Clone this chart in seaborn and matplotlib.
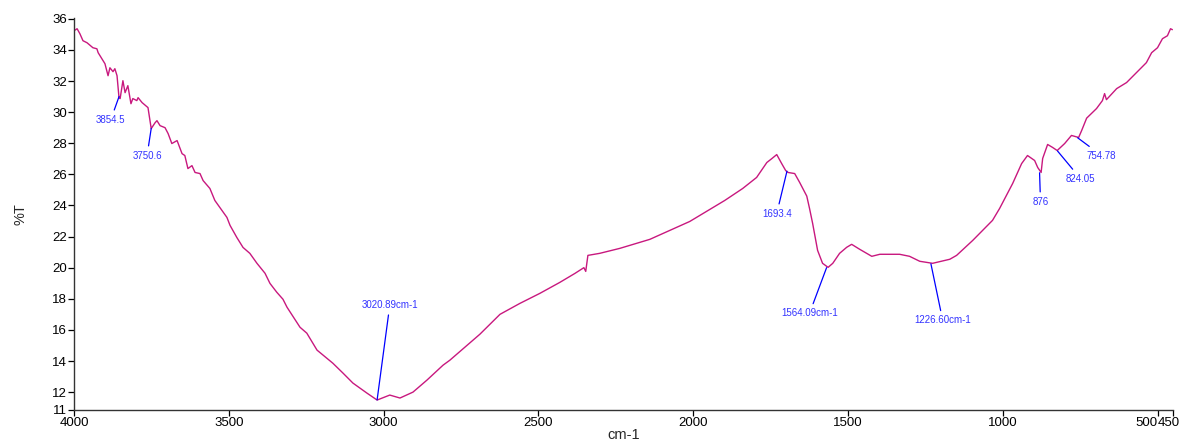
import matplotlib
matplotlib.use("Agg")
import matplotlib.pyplot as plt
import matplotlib.transforms as mtransforms
import seaborn as sns
import pandas as pd

# ---- data ----
wavenumber = [
    4000, 3990, 3981, 3971, 3958, 3939, 3926, 3922, 3910, 3900, 3890, 3884, 3874, 3868, 3861,
    3854.5, 3851, 3842, 3835, 3826, 3816, 3810, 3797, 3793, 3780, 3761, 3750.6, 3738, 3732, 3722,
    3706, 3696, 3684, 3667, 3651, 3642, 3632, 3619, 3609, 3593, 3583, 3561, 3545, 3529, 3506,
    3496, 3474, 3454, 3432, 3409, 3383, 3367, 3345, 3325, 3312, 3270, 3248, 3215, 3164, 3131,
    3099, 3054, 3020.89, 2980, 2947, 2905, 2860, 2808, 2786, 2689, 2624, 2560, 2495, 2431, 2382,
    2353, 2347, 2340, 2302, 2237, 2140, 2011, 1898, 1840, 1795, 1762, 1746, 1730, 1714, 1701,
    1693.4, 1672, 1656, 1633, 1624, 1614, 1598, 1582, 1564.09, 1549, 1527, 1504, 1488, 1462, 1423,
    1397, 1333, 1301, 1268, 1226.6, 1171, 1149, 1097, 1033, 1010, 968, 939, 920, 897, 887,
    876, 871, 855, 839, 824.05, 800, 778, 754.78, 745, 729, 697, 678, 671, 665, 632,
    600, 568, 536, 519, 500, 484, 468, 458, 452,
]
transmittance = [
    35.23, 35.36, 35.04, 34.59, 34.46, 34.14, 34.07, 33.82, 33.43, 33.11, 32.34, 32.85, 32.60, 32.79, 32.34,
    30.90, 30.87, 32.02, 31.25, 31.70, 30.54, 30.87, 30.74, 30.93, 30.61, 30.29, 28.94, 29.32, 29.45, 29.13,
    29.00, 28.62, 27.98, 28.17, 27.33, 27.21, 26.37, 26.56, 26.12, 26.05, 25.60, 25.09, 24.32, 23.87, 23.23,
    22.72, 21.94, 21.30, 20.92, 20.28, 19.64, 18.99, 18.42, 17.97, 17.46, 16.17, 15.79, 14.70, 13.86, 13.22,
    12.58, 11.94, 11.49, 11.81, 11.62, 12.00, 12.77, 13.73, 14.05, 15.72, 17.00, 17.70, 18.35, 19.05, 19.63,
    20.00, 19.76, 20.79, 20.92, 21.24, 21.82, 22.97, 24.32, 25.09, 25.80, 26.76, 27.01, 27.27, 26.69, 26.24,
    26.12, 26.05, 25.48, 24.60, 23.80, 22.84, 21.11, 20.28, 20.02, 20.28, 20.92, 21.31, 21.50, 21.18, 20.73,
    20.86, 20.86, 20.73, 20.41, 20.28, 20.54, 20.79, 21.75, 23.04, 23.81, 25.41, 26.69, 27.21, 26.89, 26.44,
    26.12, 27.02, 27.92, 27.73, 27.53, 27.98, 28.50, 28.37, 28.82, 29.61, 30.23, 30.74, 31.19, 30.80, 31.51,
    31.90, 32.54, 33.18, 33.82, 34.14, 34.72, 34.91, 35.36, 35.30,
]

peak_labels = ["3854.5", "3750.6", "3020.89cm-1", "1693.4", "1564.09cm-1", "1226.60cm-1", "876", "824.05", "754.78"]
peak_x = [3854.5, 3750.6, 3020.89, 1697, 1569, 1232, 881, 823, 758]
peak_y = [31.0, 28.95, 11.5, 26.2, 20.0, 20.25, 26.1, 27.5, 28.35]
label_x = [3881, 3764, 2980, 1730, 1624, 1194, 878, 749, 681]
label_y = [29.52, 27.21, 17.58, 23.48, 17.07, 16.62, 24.25, 25.73, 27.21]

x_ticks = [4000, 3500, 3000, 2500, 2000, 1500, 1000, 500, 450]
y_ticks = [10.85, 12, 14, 16, 18, 20, 22, 24, 26, 28, 30, 32, 34, 36]
y_tick_labels = ["11", "12", "14", "16", "18", "20", "22", "24", "26", "28", "30", "32", "34", "36"]

# ---- plot ----
sns.set_style("ticks")
plt.rcParams["font.family"] = ["Liberation Sans", "DejaVu Sans"]

fig = plt.figure(figsize=(11.88, 4.41), dpi=100)
ax = fig.add_axes([74 / 1188, 31 / 441, (1173 - 74) / 1188, (410 - 18) / 441])

df = pd.DataFrame({"wn": wavenumber, "T": transmittance})
sns.lineplot(data=df, x="wn", y="T", ax=ax, color="#C8187E", linewidth=1.0,
             sort=False, estimator=None)

for lab, px, py, tx, ty in zip(peak_labels, peak_x, peak_y, label_x, label_y):
    ax.annotate(lab, xy=(px, py), xytext=(tx, ty), ha="center", va="center",
                fontsize=7, color="#3333FF",
                arrowprops=dict(arrowstyle="-", color="#0000FF", lw=0.9,
                                shrinkA=1, shrinkB=0))

ax.set_xlim(4000, 450)
ax.set_ylim(10.85, 36.05)
ax.set_xticks(x_ticks)
ax.set_xticklabels([str(t) for t in x_ticks])
ax.set_yticks(y_ticks)
ax.set_yticklabels(y_tick_labels)
ax.tick_params(axis="both", labelsize=9.5, length=4, width=0.9, color="black",
               labelcolor="black", pad=1)

# crowded labels at the right end, laid side by side as in the reference
xlabels = ax.get_xticklabels()
xlabels[-2].set_ha("right")
xlabels[-1].set_ha("left")
xlabels[-1].set_transform(xlabels[-1].get_transform() +
                          mtransforms.ScaledTranslation(-15 / 100, 0, fig.dpi_scale_trans))

ax.set_xlabel("cm-1", fontsize=10.5)
ax.xaxis.set_label_coords(0.5, -0.045)
ax.set_ylabel("%T", fontsize=10.5, labelpad=18)
for s in ["top", "right"]:
    ax.spines[s].set_visible(False)
for s in ["left", "bottom"]:
    ax.spines[s].set_color("#333333")
    ax.spines[s].set_linewidth(1.0)

fig.savefig("out.png", dpi=100)
